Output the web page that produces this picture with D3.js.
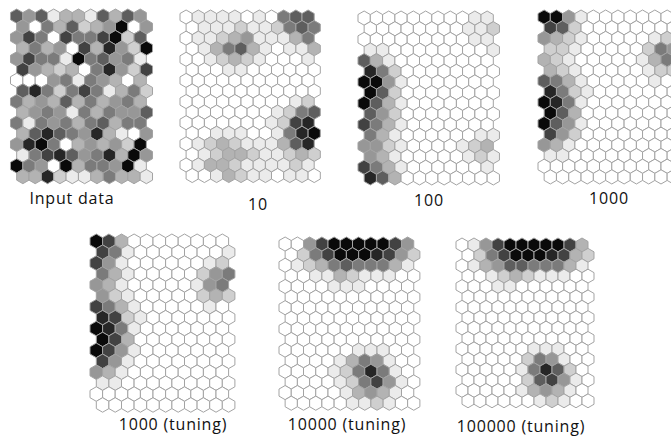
<!DOCTYPE html>
<html>
<head>
<meta charset="utf-8">
<script src="https://cdn.jsdelivr.net/npm/d3@7"></script>
<style>
body { margin: 0; background: #fff; }
svg { display: block; }
text { font-family: "Open Sans", sans-serif; font-size: 16px; letter-spacing: 0.8px; fill: #111; }
</style>
</head>
<body>
<div id="chart"></div>
<script>
// gray level of every cell, 0 = white .. 9 = black, one string per row (11 cells)
var inputData = [
    "64613316364", "40536234904", "47507557926", "35340738429",
    "47551956451", "74323058427", "00045154303", "68525751352",
    "53436353453", "34541535446", "51545356355", "36865483104",
    "48950343429", "15786458394", "95409355491", "33821135331"
];
var iter10 = [
    "01111010566", "01112112565", "01123411135", "01356310113",
    "00123210001", "00011000000", "00000000000", "00000000000",
    "00000000012", "00000001256", "00000001278", "00111001589",
    "01232111368", "01233211232", "01332111121", "00132110110"
];
var iter100 = [
    "00000000011", "00000000112", "00000000011", "11000000001",
    "63100000000", "85200000000", "99410000000", "96200000000",
    "96310000000", "64200000000", "75310000000", "53100000011",
    "44210000123", "43100000121", "75310000001", "86300000000"
];
var iter1000 = [
    "99410000000", "76200000000", "43210000012", "22100000254",
    "32100000135", "32100000122", "65310000010", "85210000000",
    "98510000000", "96300000000", "96410000000", "74200000000",
    "43100000000", "11000000000", "00000000000", "00000000000"
];
var tuning1000 = [
    "97300000000", "75100000001", "74100000012", "53100000245",
    "43100000145", "42100000232", "75310000010", "87210000000",
    "98510000000", "97300000000", "97410000000", "74100000000",
    "43100000000", "11000000000", "00000000000", "00000000000"
];
var tuning10000 = [
    "00479999974", "02579998742", "01235655531", "00113211100",
    "00001110000", "00000000000", "00000000000", "00000000000",
    "00000000000", "00000000000", "00000011100", "00001354100",
    "00001258510", "00001257410", "00000134310", "00000112100"
];
var tuning100000 = [
    "01479999973", "02579998732", "01346655531", "00123211100",
    "00011000000", "00000000000", "00000000000", "00000000000",
    "00000000000", "00000000000", "00000011100", "00000254100",
    "00000158620", "00000267410", "00000134310", "00000012100"
];
var labels = ["Input data", "10", "100", "1000", "1000 (tuning)", "10000 (tuning)", "100000 (tuning)"];

var maps = [inputData, iter10, iter100, iter1000, tuning1000, tuning10000, tuning100000];

// where each map goes: left, top, hex width, label centre and baseline
var layout = [
    {x: 10.5, y: 9,   w: 12.35, lx: 72,  ly: 204},
    {x: 180,  y: 10,  w: 12.2,  lx: 258, ly: 210},
    {x: 358,  y: 11,  w: 12.3,  lx: 429, ly: 206},
    {x: 538,  y: 10,  w: 12.3,  lx: 609, ly: 204},
    {x: 90,   y: 234, w: 12.6,  lx: 173, ly: 430},
    {x: 279,  y: 237, w: 12.25, lx: 347, ly: 430},
    {x: 456,  y: 238, w: 12.0,  lx: 521, ly: 432}
];

var width = 671, height = 436;

var svg = d3.select("#chart").append("svg")
    .attr("width", width)
    .attr("height", height);

var shade = d3.scaleLinear().domain([0, 1, 9]).range([255, 235, 10]);

// pointy-top hexagon around 0,0
function hexPath(r) {
    var pts = d3.range(6).map(function(k) {
        var a = Math.PI / 180 * (60 * k - 90);
        return [r * Math.cos(a), r * Math.sin(a)];
    });
    return "M" + pts.join("L") + "Z";
}

maps.forEach(function(rows, m) {
    var p = layout[m];
    var r = p.w / Math.sqrt(3);

    var x = d3.scaleLinear().domain([0, 1]).range([p.x + p.w / 2, p.x + p.w * 1.5]);
    var y = d3.scaleLinear().domain([0, 1]).range([p.y + r, p.y + r * 2.5]);

    var cells = [];
    rows.forEach(function(row, i) {
        row.split("").forEach(function(ch, j) {
            cells.push({row: i, col: j, v: +ch});
        });
    });

    svg.append("g")
        .attr("class", "map")
        .selectAll("path")
        .data(cells)
        .enter().append("path")
            .attr("d", hexPath(r))
            .attr("transform", function(d) {
                return "translate(" + x(d.col + (d.row % 2) / 2) + "," + y(d.row) + ")";
            })
            .attr("fill", function(d) {
                var c = Math.round(shade(d.v));
                return d3.rgb(c, c, c);
            })
            .attr("stroke", "#a3a3a3")
            .attr("stroke-width", 1);

    svg.append("text")
        .attr("x", p.lx)
        .attr("y", p.ly)
        .attr("text-anchor", "middle")
        .text(labels[m]);
});
</script>
</body>
</html>
